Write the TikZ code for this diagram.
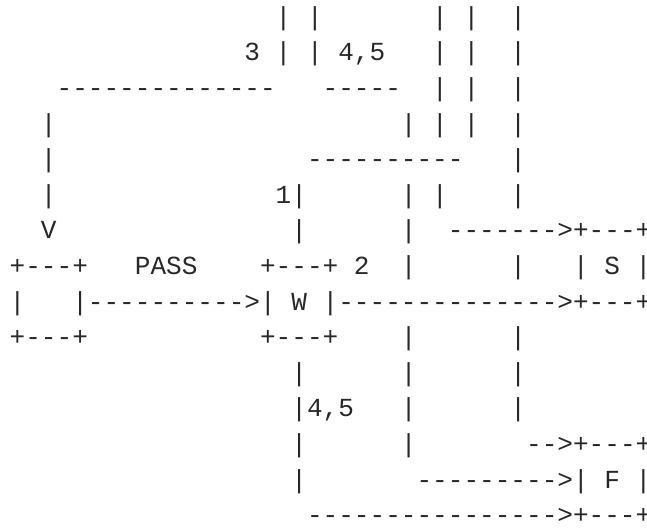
\documentclass[tikz,border=0pt]{standalone}
\usepackage{fontspec}
\newfontfamily\ascfont{Liberation Mono}
\definecolor{ink}{RGB}{40,40,40}
\tikzset{
  asc/.style={font=\ascfont\fontsize{26.08pt}{30pt}\selectfont, text=ink,
    inner sep=0pt, outer sep=0pt, anchor=base west}
}
\begin{document}
\begin{tikzpicture}[x=1pt,y=1pt]
\useasboundingbox (0,0) rectangle (647,527);
\foreach \r/\c/\t in {
  0/17/|, 0/19/|, 0/27/|, 0/29/|, 0/32/|,
  1/15/3, 1/17/|, 1/19/|, 1/21/{4,5}, 1/27/|, 1/29/|, 1/32/|,
  2/3/--------------, 2/20/-----, 2/27/|, 2/29/|, 2/32/|,
  3/2/|, 3/25/|, 3/27/|, 3/29/|, 3/32/|,
  4/2/|, 4/19/----------, 4/32/|,
  5/2/|, 5/17/1|, 5/25/|, 5/27/|, 5/32/|,
  6/2/V, 6/18/|, 6/25/|, 6/28/------->+---+,
  7/0/+---+, 7/8/PASS, 7/16/+---+, 7/22/2, 7/25/|, 7/32/|, 7/36/|, 7/38/S, 7/40/|,
  8/0/|, 8/4/|---------->|, 8/18/W, 8/20/|-------------->+---+,
  9/0/+---+, 9/16/+---+, 9/25/|, 9/32/|,
  10/18/|, 10/25/|, 10/32/|,
  11/18/|4{,}5, 11/25/|, 11/32/|,
  12/18/|, 12/25/|, 12/33/-->+---+,
  13/18/|, 13/26/--------->|, 13/38/F, 13/40/|,
  14/19/---------------->+---+}
{
  \node[asc] (n\r-\c) at ({9.675+15.65*\c}, {527-25.3-35.6*\r}) {\t};
}
\end{tikzpicture}
\end{document}
